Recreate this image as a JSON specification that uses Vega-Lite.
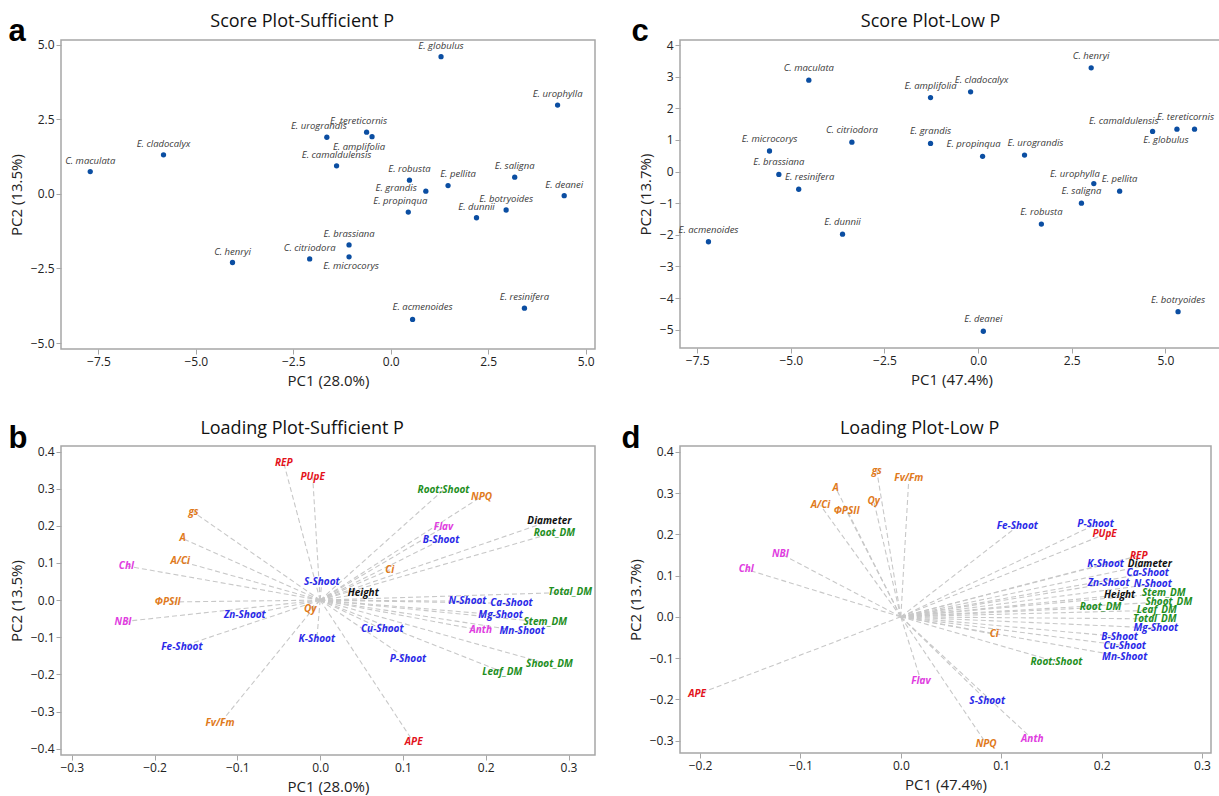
{
  "$schema": "https://vega.github.io/schema/vega-lite/v6.json",
  "background": "white",
  "padding": {"left": 8, "top": 12, "right": 0, "bottom": 0},
  "datasets": {
    "sa": [
      {"name": "C. maculata", "PC1": -7.71, "PC2": 0.75},
      {"name": "E. cladocalyx", "PC1": -5.83, "PC2": 1.31},
      {"name": "E. urograndis", "PC1": -1.64, "PC2": 1.90},
      {"name": "E. tereticornis", "PC1": -0.62, "PC2": 2.07},
      {"name": "E. amplifolia", "PC1": -0.48, "PC2": 1.92},
      {"name": "E. camaldulensis", "PC1": -1.39, "PC2": 0.94},
      {"name": "E. globulus", "PC1": 1.29, "PC2": 4.60},
      {"name": "E. urophylla", "PC1": 4.28, "PC2": 2.98},
      {"name": "E. robusta", "PC1": 0.48, "PC2": 0.46},
      {"name": "E. grandis", "PC1": 0.90, "PC2": 0.09},
      {"name": "E. pellita", "PC1": 1.47, "PC2": 0.28},
      {"name": "E. saligna", "PC1": 3.18, "PC2": 0.56},
      {"name": "E. deanei", "PC1": 4.45, "PC2": -0.06},
      {"name": "E. propinqua", "PC1": 0.45, "PC2": -0.61},
      {"name": "E. dunnii", "PC1": 2.20, "PC2": -0.80},
      {"name": "E. botryoides", "PC1": 2.96, "PC2": -0.54},
      {"name": "E. brassiana", "PC1": -1.07, "PC2": -1.71},
      {"name": "E. microcorys", "PC1": -1.07, "PC2": -2.11},
      {"name": "C. citriodora", "PC1": -2.08, "PC2": -2.18},
      {"name": "C. henryi", "PC1": -4.06, "PC2": -2.30},
      {"name": "E. resinifera", "PC1": 3.43, "PC2": -3.83},
      {"name": "E. acmenoides", "PC1": 0.56, "PC2": -4.21}
    ],
    "sc": [
      {"name": "C. maculata", "PC1": -4.52, "PC2": 2.89},
      {"name": "C. henryi", "PC1": 3.02, "PC2": 3.28},
      {"name": "E. cladocalyx", "PC1": -0.20, "PC2": 2.52},
      {"name": "E. amplifolia", "PC1": -1.27, "PC2": 2.34},
      {"name": "E. tereticornis", "PC1": 5.78, "PC2": 1.34},
      {"name": "E. camaldulensis", "PC1": 4.66, "PC2": 1.27},
      {"name": "E. globulus", "PC1": 5.31, "PC2": 1.34},
      {"name": "C. citriodora", "PC1": -3.37, "PC2": 0.93},
      {"name": "E. grandis", "PC1": -1.27, "PC2": 0.89},
      {"name": "E. microcorys", "PC1": -5.57, "PC2": 0.65},
      {"name": "E. propinqua", "PC1": 0.12, "PC2": 0.48},
      {"name": "E. urograndis", "PC1": 1.24, "PC2": 0.52},
      {"name": "E. brassiana", "PC1": -5.32, "PC2": -0.09},
      {"name": "E. resinifera", "PC1": -4.79, "PC2": -0.56},
      {"name": "E. urophylla", "PC1": 3.09, "PC2": -0.38},
      {"name": "E. pellita", "PC1": 3.78, "PC2": -0.62},
      {"name": "E. saligna", "PC1": 2.76, "PC2": -1.00},
      {"name": "E. robusta", "PC1": 1.69, "PC2": -1.66},
      {"name": "E. dunnii", "PC1": -3.62, "PC2": -1.98},
      {"name": "E. acmenoides", "PC1": -7.20, "PC2": -2.22},
      {"name": "E. deanei", "PC1": 0.14, "PC2": -5.05},
      {"name": "E. botryoides", "PC1": 5.34, "PC2": -4.43}
    ],
    "lb": [
      {"var": "REP", "group": "Efficiency", "PC1": -0.044, "PC2": 0.370},
      {"var": "PUpE", "group": "Efficiency", "PC1": -0.009, "PC2": 0.332},
      {"var": "Root:Shoot", "group": "Biomass", "PC1": 0.149, "PC2": 0.297},
      {"var": "NPQ", "group": "Photosynthesis", "PC1": 0.195, "PC2": 0.279},
      {"var": "gs", "group": "Photosynthesis", "PC1": -0.153, "PC2": 0.237},
      {"var": "Diameter", "group": "Growth", "PC1": 0.277, "PC2": 0.213},
      {"var": "Root_DM", "group": "Biomass", "PC1": 0.283, "PC2": 0.182},
      {"var": "Flav", "group": "Pigment", "PC1": 0.149, "PC2": 0.196},
      {"var": "B-Shoot", "group": "Nutrient", "PC1": 0.146, "PC2": 0.162},
      {"var": "A", "group": "Photosynthesis", "PC1": -0.166, "PC2": 0.166},
      {"var": "A/Ci", "group": "Photosynthesis", "PC1": -0.169, "PC2": 0.105},
      {"var": "Chl", "group": "Pigment", "PC1": -0.234, "PC2": 0.092},
      {"var": "Ci", "group": "Photosynthesis", "PC1": 0.084, "PC2": 0.082},
      {"var": "S-Shoot", "group": "Nutrient", "PC1": 0.002, "PC2": 0.050},
      {"var": "Height", "group": "Growth", "PC1": 0.052, "PC2": 0.018},
      {"var": "Total_DM", "group": "Biomass", "PC1": 0.302, "PC2": 0.021},
      {"var": "ΦPSII", "group": "Photosynthesis", "PC1": -0.184, "PC2": -0.005},
      {"var": "N-Shoot", "group": "Nutrient", "PC1": 0.178, "PC2": -0.003},
      {"var": "Ca-Shoot", "group": "Nutrient", "PC1": 0.231, "PC2": -0.009},
      {"var": "Qy", "group": "Photosynthesis", "PC1": -0.012, "PC2": -0.024},
      {"var": "Zn-Shoot", "group": "Nutrient", "PC1": -0.091, "PC2": -0.040},
      {"var": "Mg-Shoot", "group": "Nutrient", "PC1": 0.218, "PC2": -0.040},
      {"var": "NBI", "group": "Pigment", "PC1": -0.238, "PC2": -0.058},
      {"var": "Stem_DM", "group": "Biomass", "PC1": 0.272, "PC2": -0.060},
      {"var": "Cu-Shoot", "group": "Nutrient", "PC1": 0.075, "PC2": -0.078},
      {"var": "Anth", "group": "Pigment", "PC1": 0.194, "PC2": -0.081},
      {"var": "Mn-Shoot", "group": "Nutrient", "PC1": 0.244, "PC2": -0.084},
      {"var": "K-Shoot", "group": "Nutrient", "PC1": -0.004, "PC2": -0.105},
      {"var": "Fe-Shoot", "group": "Nutrient", "PC1": -0.167, "PC2": -0.125},
      {"var": "P-Shoot", "group": "Nutrient", "PC1": 0.106, "PC2": -0.159},
      {"var": "Shoot_DM", "group": "Biomass", "PC1": 0.277, "PC2": -0.173},
      {"var": "Leaf_DM", "group": "Biomass", "PC1": 0.220, "PC2": -0.193},
      {"var": "Fv/Fm", "group": "Photosynthesis", "PC1": -0.121, "PC2": -0.332},
      {"var": "APE", "group": "Efficiency", "PC1": 0.113, "PC2": -0.383}
    ],
    "ld": [
      {"var": "gs", "group": "Photosynthesis", "PC1": -0.024, "PC2": 0.354},
      {"var": "Fv/Fm", "group": "Photosynthesis", "PC1": 0.008, "PC2": 0.337},
      {"var": "A", "group": "Photosynthesis", "PC1": -0.065, "PC2": 0.313},
      {"var": "Qy", "group": "Photosynthesis", "PC1": -0.027, "PC2": 0.281},
      {"var": "A/Ci", "group": "Photosynthesis", "PC1": -0.080, "PC2": 0.270},
      {"var": "ΦPSII", "group": "Photosynthesis", "PC1": -0.054, "PC2": 0.256},
      {"var": "Fe-Shoot", "group": "Nutrient", "PC1": 0.116, "PC2": 0.219},
      {"var": "P-Shoot", "group": "Nutrient", "PC1": 0.194, "PC2": 0.224},
      {"var": "PUpE", "group": "Efficiency", "PC1": 0.203, "PC2": 0.200},
      {"var": "NBI", "group": "Pigment", "PC1": -0.120, "PC2": 0.153},
      {"var": "REP", "group": "Efficiency", "PC1": 0.237, "PC2": 0.148},
      {"var": "Chl", "group": "Pigment", "PC1": -0.154, "PC2": 0.115},
      {"var": "K-Shoot", "group": "Nutrient", "PC1": 0.204, "PC2": 0.129},
      {"var": "Diameter", "group": "Growth", "PC1": 0.248, "PC2": 0.127},
      {"var": "Ca-Shoot", "group": "Nutrient", "PC1": 0.246, "PC2": 0.106},
      {"var": "Zn-Shoot", "group": "Nutrient", "PC1": 0.207, "PC2": 0.081},
      {"var": "N-Shoot", "group": "Nutrient", "PC1": 0.251, "PC2": 0.079},
      {"var": "Height", "group": "Growth", "PC1": 0.218, "PC2": 0.053},
      {"var": "Stem_DM", "group": "Biomass", "PC1": 0.262, "PC2": 0.057},
      {"var": "Shoot_DM", "group": "Biomass", "PC1": 0.267, "PC2": 0.037},
      {"var": "Root_DM", "group": "Biomass", "PC1": 0.199, "PC2": 0.023},
      {"var": "Leaf_DM", "group": "Biomass", "PC1": 0.255, "PC2": 0.016},
      {"var": "Total_DM", "group": "Biomass", "PC1": 0.253, "PC2": -0.005},
      {"var": "Mg-Shoot", "group": "Nutrient", "PC1": 0.254, "PC2": -0.027},
      {"var": "Ci", "group": "Photosynthesis", "PC1": 0.093, "PC2": -0.042},
      {"var": "B-Shoot", "group": "Nutrient", "PC1": 0.218, "PC2": -0.048},
      {"var": "Cu-Shoot", "group": "Nutrient", "PC1": 0.223, "PC2": -0.070},
      {"var": "Mn-Shoot", "group": "Nutrient", "PC1": 0.223, "PC2": -0.097},
      {"var": "Root:Shoot", "group": "Biomass", "PC1": 0.155, "PC2": -0.109},
      {"var": "Flav", "group": "Pigment", "PC1": 0.020, "PC2": -0.155},
      {"var": "APE", "group": "Efficiency", "PC1": -0.203, "PC2": -0.188},
      {"var": "S-Shoot", "group": "Nutrient", "PC1": 0.086, "PC2": -0.204},
      {"var": "Anth", "group": "Pigment", "PC1": 0.131, "PC2": -0.296},
      {"var": "NPQ", "group": "Photosynthesis", "PC1": 0.085, "PC2": -0.307}
    ]
  },
  "columns": 2,
  "spacing": {"row": 29, "column": 25},
  "resolve": {"scale": {"x": "independent", "y": "independent", "color": "shared"}},
  "concat": [
    {
      "title": {"text": "a", "anchor": "start", "frame": "bounds", "font": "Liberation Sans", "fontSize": 31, "fontWeight": "bold", "color": "#000000", "baseline": "alphabetic", "offset": -60},
      "vconcat": [
        {
          "width": 534, "height": 309,
          "title": {"text": "Score Plot-Sufficient P"},
          "data": {"name": "sa"},
          "encoding": {
            "x": {"field": "PC1", "type": "quantitative", "scale": {"domain": [-8.46, 5.24], "nice": false, "zero": false}, "axis": {"title": "PC1 (28.0%)", "values": [-7.5, -5, -2.5, 0, 2.5, 5], "format": ".1f"}},
            "y": {"field": "PC2", "type": "quantitative", "scale": {"domain": [-5.2, 5.16], "nice": false, "zero": false}, "axis": {"title": "PC2 (13.5%)", "values": [-5, -2.5, 0, 2.5, 5], "format": ".1f"}}
          },
          "layer": [
            {"data": {"values": [{"ref": 0}]}, "mark": {"type": "rule", "color": "#aaaaaa", "strokeDash": [6, 4], "strokeWidth": 1.2}, "encoding": {"x": {"datum": 0}, "y": {"datum": -5.2}, "y2": {"datum": 5.16}}},
            {"data": {"values": [{"ref": 0}]}, "mark": {"type": "rule", "color": "#aaaaaa", "strokeDash": [6, 4], "strokeWidth": 1.2}, "encoding": {"y": {"datum": 0}, "x": {"datum": -8.46}, "x2": {"datum": 5.24}}},
            {"mark": {"type": "circle", "color": "#0b4ea2", "opacity": 1, "size": 28}},
            {"transform": [{"filter": {"field": "name", "oneOf": ["C. maculata", "E. cladocalyx", "E. camaldulensis", "E. globulus", "E. urophylla", "E. robusta", "E. saligna", "E. deanei", "E. dunnii", "E. botryoides", "E. brassiana", "C. citriodora", "C. henryi", "E. resinifera"]}}],
             "mark": {"type": "text", "font": "Open Sans", "fontStyle": "italic", "fontSize": 9.5, "color": "#3a3a3a", "align": "center", "baseline": "middle", "dy": -11}, "encoding": {"text": {"field": "name"}}},
            {"transform": [{"filter": {"field": "name", "oneOf": ["E. urograndis", "E. tereticornis", "E. propinqua"]}}],
             "mark": {"type": "text", "font": "Open Sans", "fontStyle": "italic", "fontSize": 9.5, "color": "#3a3a3a", "align": "center", "baseline": "middle", "dy": -11, "dx": -8}, "encoding": {"text": {"field": "name"}}},
            {"transform": [{"filter": {"field": "name", "oneOf": ["E. pellita", "E. acmenoides"]}}],
             "mark": {"type": "text", "font": "Open Sans", "fontStyle": "italic", "fontSize": 9.5, "color": "#3a3a3a", "align": "center", "baseline": "middle", "dy": -12, "dx": 10}, "encoding": {"text": {"field": "name"}}},
            {"transform": [{"filter": {"field": "name", "oneOf": ["E. microcorys"]}}],
             "mark": {"type": "text", "font": "Open Sans", "fontStyle": "italic", "fontSize": 9.5, "color": "#3a3a3a", "align": "center", "baseline": "middle", "dy": 9, "dx": 2}, "encoding": {"text": {"field": "name"}}},
            {"transform": [{"filter": {"field": "name", "oneOf": ["E. amplifolia"]}}],
             "mark": {"type": "text", "font": "Open Sans", "fontStyle": "italic", "fontSize": 9.5, "color": "#3a3a3a", "align": "center", "baseline": "middle", "dy": 10, "dx": -13}, "encoding": {"text": {"field": "name"}}},
            {"transform": [{"filter": {"field": "name", "oneOf": ["E. grandis"]}}],
             "mark": {"type": "text", "font": "Open Sans", "fontStyle": "italic", "fontSize": 9.5, "color": "#3a3a3a", "align": "right", "baseline": "middle", "dy": -3, "dx": -9}, "encoding": {"text": {"field": "name"}}}
          ]
        }
      ]
    },
    {
      "title": {"text": "c", "anchor": "start", "frame": "bounds", "font": "Liberation Sans", "fontSize": 31, "fontWeight": "bold", "color": "#000000", "baseline": "alphabetic", "offset": -60, "dx": -6},
      "vconcat": [
        {
          "width": 543, "height": 308,
          "title": {"text": "Score Plot-Low P"},
          "data": {"name": "sc"},
          "encoding": {
            "x": {"field": "PC1", "type": "quantitative", "scale": {"domain": [-7.96, 6.54], "nice": false, "zero": false}, "axis": {"title": "PC1 (47.4%)", "values": [-7.5, -5, -2.5, 0, 2.5, 5], "format": ".1f"}},
            "y": {"field": "PC2", "type": "quantitative", "scale": {"domain": [-5.58, 4.16], "nice": false, "zero": false}, "axis": {"title": "PC2 (13.7%)", "values": [-5, -4, -3, -2, -1, 0, 1, 2, 3, 4], "format": "d"}}
          },
          "layer": [
            {"data": {"values": [{"ref": 0}]}, "mark": {"type": "rule", "color": "#aaaaaa", "strokeDash": [6, 4], "strokeWidth": 1.2}, "encoding": {"x": {"datum": 0}, "y": {"datum": -5.58}, "y2": {"datum": 4.16}}},
            {"data": {"values": [{"ref": 0}]}, "mark": {"type": "rule", "color": "#aaaaaa", "strokeDash": [6, 4], "strokeWidth": 1.2}, "encoding": {"y": {"datum": 0}, "x": {"datum": -7.96}, "x2": {"datum": 6.54}}},
            {"mark": {"type": "circle", "color": "#0b4ea2", "opacity": 1, "size": 28}},
            {"transform": [{"filter": {"field": "name", "oneOf": ["C. maculata", "C. henryi", "E. amplifolia", "C. citriodora", "E. grandis", "E. microcorys", "E. brassiana", "E. pellita", "E. saligna", "E. robusta", "E. dunnii", "E. acmenoides", "E. deanei", "E. botryoides"]}}],
             "mark": {"type": "text", "font": "Open Sans", "fontStyle": "italic", "fontSize": 9.5, "color": "#3a3a3a", "align": "center", "baseline": "middle", "dy": -12}, "encoding": {"text": {"field": "name"}}},
            {"transform": [{"filter": {"field": "name", "oneOf": ["E. cladocalyx", "E. urograndis", "E. resinifera"]}}],
             "mark": {"type": "text", "font": "Open Sans", "fontStyle": "italic", "fontSize": 9.5, "color": "#3a3a3a", "align": "center", "baseline": "middle", "dy": -12, "dx": 11}, "encoding": {"text": {"field": "name"}}},
            {"transform": [{"filter": {"field": "name", "oneOf": ["E. tereticornis", "E. propinqua"]}}],
             "mark": {"type": "text", "font": "Open Sans", "fontStyle": "italic", "fontSize": 9.5, "color": "#3a3a3a", "align": "center", "baseline": "middle", "dy": -12, "dx": -9}, "encoding": {"text": {"field": "name"}}},
            {"transform": [{"filter": {"field": "name", "oneOf": ["E. globulus"]}}],
             "mark": {"type": "text", "font": "Open Sans", "fontStyle": "italic", "fontSize": 9.5, "color": "#3a3a3a", "align": "center", "baseline": "middle", "dy": 11, "dx": -11}, "encoding": {"text": {"field": "name"}}},
            {"transform": [{"filter": {"field": "name", "oneOf": ["E. camaldulensis", "E. urophylla"]}}],
             "mark": {"type": "text", "font": "Open Sans", "fontStyle": "italic", "fontSize": 9.5, "color": "#3a3a3a", "align": "right", "baseline": "middle", "dy": -10, "dx": 6}, "encoding": {"text": {"field": "name"}}}
          ]
        }
      ]
    },
    {
      "title": {"text": "b", "anchor": "start", "frame": "bounds", "font": "Liberation Sans", "fontSize": 31, "fontWeight": "bold", "color": "#000000", "baseline": "alphabetic", "offset": -60},
      "vconcat": [
        {
          "width": 534, "height": 309,
          "title": {"text": "Loading Plot-Sufficient P"},
          "data": {"name": "lb"},
          "encoding": {
            "x": {"field": "PC1", "type": "quantitative", "scale": {"domain": [-0.313, 0.332], "nice": false, "zero": false}, "axis": {"title": "PC1 (28.0%)", "values": [-0.3, -0.2, -0.1, 0, 0.1, 0.2, 0.3], "format": ".1f"}},
            "y": {"field": "PC2", "type": "quantitative", "scale": {"domain": [-0.417, 0.415], "nice": false, "zero": false}, "axis": {"title": "PC2 (13.5%)", "values": [-0.4, -0.3, -0.2, -0.1, 0, 0.1, 0.2, 0.3, 0.4], "format": ".1f"}}
          },
          "layer": [
            {"mark": {"type": "rule", "color": "#c8c8c8", "strokeDash": [5, 3], "strokeWidth": 1.1}, "encoding": {"x": {"datum": 0}, "y": {"datum": 0}, "x2": {"field": "PC1"}, "y2": {"field": "PC2"}}},
            {"mark": {"type": "text", "font": "Open Sans", "fontStyle": "italic", "fontWeight": "bold", "fontSize": 10, "align": "center", "baseline": "middle"},
             "encoding": {"text": {"field": "var"}, "color": {"field": "group", "type": "nominal", "legend": null, "scale": {"domain": ["Efficiency", "Photosynthesis", "Pigment", "Nutrient", "Biomass", "Growth"], "range": ["#e3121b", "#df7a1c", "#e03ce0", "#2a2ae8", "#1f8f1f", "#111111"]}}}}
          ]
        }
      ]
    },
    {
      "title": {"text": "d", "anchor": "start", "frame": "bounds", "font": "Liberation Sans", "fontSize": 31, "fontWeight": "bold", "color": "#000000", "baseline": "alphabetic", "offset": -60, "dx": -6},
      "vconcat": [
        {
          "width": 531, "height": 307,
          "title": {"text": "Loading Plot-Low P"},
          "data": {"name": "ld"},
          "encoding": {
            "x": {"field": "PC1", "type": "quantitative", "scale": {"domain": [-0.22, 0.309], "nice": false, "zero": false}, "axis": {"title": "PC1 (47.4%)", "values": [-0.2, -0.1, 0, 0.1, 0.2, 0.3], "format": ".1f"}},
            "y": {"field": "PC2", "type": "quantitative", "scale": {"domain": [-0.33, 0.414], "nice": false, "zero": false}, "axis": {"title": "PC2 (13.7%)", "values": [-0.3, -0.2, -0.1, 0, 0.1, 0.2, 0.3, 0.4], "format": ".1f"}}
          },
          "layer": [
            {"mark": {"type": "rule", "color": "#c8c8c8", "strokeDash": [5, 3], "strokeWidth": 1.1}, "encoding": {"x": {"datum": 0}, "y": {"datum": 0}, "x2": {"field": "PC1"}, "y2": {"field": "PC2"}}},
            {"mark": {"type": "text", "font": "Open Sans", "fontStyle": "italic", "fontWeight": "bold", "fontSize": 10, "align": "center", "baseline": "middle"},
             "encoding": {"text": {"field": "var"}, "color": {"field": "group", "type": "nominal", "legend": null, "scale": {"domain": ["Efficiency", "Photosynthesis", "Pigment", "Nutrient", "Biomass", "Growth"], "range": ["#e3121b", "#df7a1c", "#e03ce0", "#2a2ae8", "#1f8f1f", "#111111"]}}}}
          ]
        }
      ]
    }
  ],
  "config": {
    "view": {"stroke": "#a6a6a6", "strokeWidth": 1.5},
    "axis": {"grid": false, "domain": false, "ticks": true, "tickColor": "#a6a6a6", "tickSize": 5, "labelFont": "Open Sans", "labelFontSize": 12, "labelColor": "#222222", "labelPadding": 2, "titleFont": "Open Sans", "titleFontSize": 15, "titleFontWeight": "normal", "titleColor": "#222222", "titlePadding": 6},
    "title": {"font": "Open Sans", "fontSize": 18, "fontWeight": "normal", "color": "#111111", "frame": "bounds", "offset": 8}
  }
}
